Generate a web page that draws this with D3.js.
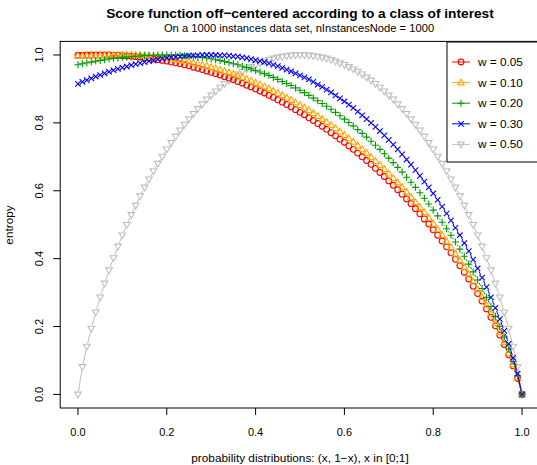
<!DOCTYPE html>
<html>
<head>
<meta charset="utf-8">
<script src="https://cdn.jsdelivr.net/npm/d3@7"></script>
<style>
  body { margin: 0; background: #fff; }
  svg { display: block; font-family: "Liberation Sans", Arial, sans-serif; }
</style>
</head>
<body>
<svg id="chart" width="537" height="465"></svg>
<script>
// x grid: probability of the first class
var xValues = [0,0.01,0.02,0.03,0.04,0.05,0.06,0.07,0.08,0.09,0.1,0.11,0.12,0.13,0.14,0.15,0.16,0.17,0.18,0.19,
  0.2,0.21,0.22,0.23,0.24,0.25,0.26,0.27,0.28,0.29,0.3,0.31,0.32,0.33,0.34,0.35,0.36,0.37,0.38,0.39,
  0.4,0.41,0.42,0.43,0.44,0.45,0.46,0.47,0.48,0.49,0.5,0.51,0.52,0.53,0.54,0.55,0.56,0.57,0.58,0.59,
  0.6,0.61,0.62,0.63,0.64,0.65,0.66,0.67,0.68,0.69,0.7,0.71,0.72,0.73,0.74,0.75,0.76,0.77,0.78,0.79,
  0.8,0.81,0.82,0.83,0.84,0.85,0.86,0.87,0.88,0.89,0.9,0.91,0.92,0.93,0.94,0.95,0.96,0.97,0.98,0.99,1];

var entropyW005 = [0.999,0.999,1,1,1,
  1,1,1,0.999,0.999,0.998,0.997,0.996,0.995,0.994,
  0.992,0.99,0.988,0.986,0.984,0.982,0.979,0.977,0.974,0.971,
  0.968,0.964,0.961,0.957,0.953,0.949,0.945,0.941,0.936,0.932,
  0.927,0.922,0.917,0.911,0.906,0.9,0.894,0.888,0.881,0.875,
  0.868,0.861,0.854,0.847,0.839,0.831,0.824,0.815,0.807,0.798,
  0.79,0.781,0.771,0.762,0.752,0.743,0.732,0.722,0.711,0.7,
  0.689,0.678,0.666,0.654,0.642,0.629,0.616,0.603,0.59,0.576,
  0.562,0.547,0.532,0.517,0.502,0.485,0.469,0.452,0.435,0.417,
  0.398,0.379,0.36,0.34,0.319,0.297,0.275,0.252,0.227,0.202,
  0.175,0.147,0.117,0.084,0.047,0];

var entropyW010 = [0.997,0.997,0.998,0.998,0.999,0.999,0.999,1,1,1,
  1,1,1,0.999,0.999,0.998,0.997,0.996,0.994,0.993,
  0.991,0.989,0.987,0.985,0.983,0.98,0.977,0.974,0.971,0.968,
  0.964,0.96,0.956,0.952,0.948,0.944,0.939,0.934,0.929,0.924,
  0.918,0.913,0.907,0.901,0.894,0.888,0.881,0.874,0.867,0.86,
  0.852,0.845,0.837,0.828,0.82,0.811,0.802,0.793,0.784,0.774,
  0.764,0.754,0.744,0.733,0.722,0.711,0.699,0.687,0.675,0.663,
  0.65,0.637,0.624,0.61,0.596,0.581,0.566,0.551,0.536,0.52,
  0.503,0.486,0.469,0.451,0.433,0.414,0.394,0.374,0.353,0.332,
  0.309,0.286,0.262,0.237,0.21,0.183,0.154,0.122,0.088,0.05,
  0];

var entropyW020 = [0.971,0.974,0.977,0.979,0.982,0.984,0.986,0.988,0.99,0.991,
  0.993,0.994,0.995,0.996,0.997,0.998,0.999,0.999,1,1,
  1,1,1,0.999,0.998,0.997,0.996,0.994,0.993,0.991,
  0.989,0.986,0.984,0.981,0.978,0.974,0.971,0.967,0.963,0.959,
  0.954,0.95,0.945,0.94,0.934,0.928,0.922,0.916,0.91,0.903,
  0.896,0.889,0.881,0.873,0.865,0.857,0.849,0.84,0.831,0.821,
  0.811,0.801,0.791,0.78,0.769,0.758,0.746,0.734,0.722,0.709,
  0.696,0.683,0.669,0.655,0.64,0.625,0.61,0.594,0.578,0.561,
  0.543,0.526,0.507,0.488,0.469,0.449,0.428,0.407,0.384,0.361,
  0.337,0.312,0.286,0.259,0.23,0.201,0.169,0.134,0.097,0.055,
  0];

var entropyW030 = [0.915,0.921,0.926,0.931,0.936,0.941,0.946,0.95,0.955,0.959,
  0.963,0.966,0.97,0.973,0.976,0.979,0.982,0.984,0.987,0.989,
  0.991,0.993,0.994,0.996,0.997,0.998,0.998,0.999,1,1,
  1,1,0.999,0.999,0.998,0.996,0.995,0.993,0.991,0.988,
  0.985,0.982,0.979,0.975,0.971,0.967,0.962,0.957,0.952,0.946,
  0.94,0.934,0.928,0.921,0.913,0.906,0.898,0.89,0.881,0.872,
  0.863,0.854,0.844,0.833,0.822,0.811,0.8,0.788,0.776,0.763,
  0.75,0.736,0.722,0.707,0.692,0.677,0.661,0.644,0.627,0.61,
  0.592,0.573,0.553,0.533,0.513,0.491,0.469,0.446,0.422,0.397,
  0.371,0.344,0.316,0.286,0.255,0.222,0.187,0.149,0.108,0.061,
  0];

var entropyW050 = [0,0.081,0.141,0.194,0.242,0.286,0.327,0.366,0.402,0.436,
  0.469,0.5,0.529,0.557,0.584,0.61,0.634,0.658,0.68,0.701,
  0.722,0.741,0.76,0.778,0.795,0.811,0.827,0.841,0.855,0.869,
  0.881,0.893,0.904,0.915,0.925,0.934,0.943,0.951,0.958,0.965,
  0.971,0.976,0.981,0.986,0.99,0.993,0.995,0.997,0.999,1,
  1,1,0.999,0.997,0.995,0.993,0.99,0.986,0.981,0.976,
  0.971,0.965,0.958,0.951,0.943,0.934,0.925,0.915,0.904,0.893,
  0.881,0.869,0.855,0.841,0.827,0.811,0.795,0.778,0.76,0.741,
  0.722,0.701,0.68,0.658,0.634,0.61,0.584,0.557,0.529,0.5,
  0.469,0.436,0.402,0.366,0.327,0.286,0.242,0.194,0.141,0.081,
  0];

var legendLabels = ["w = 0.05", "w = 0.10", "w = 0.20", "w = 0.30", "w = 0.50"];
var xTicks = [0, 0.2, 0.4, 0.6, 0.8, 1];
var yTicks = [0, 0.2, 0.4, 0.6, 0.8, 1];

var series = [
  { label: legendLabels[0], values: entropyW005, color: "#ff0000", pch: "circle" },
  { label: legendLabels[1], values: entropyW010, color: "#ffa500", pch: "triangle" },
  { label: legendLabels[2], values: entropyW020, color: "#009a00", pch: "plus" },
  { label: legendLabels[3], values: entropyW030, color: "#0000ff", pch: "cross" },
  { label: legendLabels[4], values: entropyW050, color: "#bebebe", pch: "triangleDown" }
];
// drawing order: grey first, blue last
var drawOrder = [4, 0, 1, 2, 3];

var svg = d3.select("#chart");
var width = 537, height = 465;

// R-style 4% padding around the data range
var x = d3.scaleLinear().domain([-0.04, 1.04]).range([60.2, 539.8]);
var y = d3.scaleLinear().domain([-0.04, 1.04]).range([408, 41.4]);

svg.append("rect").attr("width", width).attr("height", height).attr("fill", "#fff");

// point symbols (R pch 1, 2, 3, 4, 6)
function symbolPath(type, cx, cy) {
  var s = 3.5;
  switch (type) {
    case "triangle":
      return "M" + cx + "," + (cy - s) + "L" + (cx + s * 0.95) + "," + (cy + s * 0.65) +
        "L" + (cx - s * 0.95) + "," + (cy + s * 0.65) + "Z";
    case "triangleDown":
      return "M" + cx + "," + (cy + s) + "L" + (cx + s * 0.95) + "," + (cy - s * 0.65) +
        "L" + (cx - s * 0.95) + "," + (cy - s * 0.65) + "Z";
    case "plus":
      return "M" + (cx - s) + "," + cy + "H" + (cx + s) + "M" + cx + "," + (cy - s) + "V" + (cy + s);
    case "cross":
      var c = s * 0.78;
      return "M" + (cx - c) + "," + (cy - c) + "L" + (cx + c) + "," + (cy + c) +
        "M" + (cx - c) + "," + (cy + c) + "L" + (cx + c) + "," + (cy - c);
  }
  return null;
}

function drawPoint(g, type, cx, cy, color) {
  if (type == "circle") {
    g.append("circle").attr("cx", cx).attr("cy", cy).attr("r", 2.9)
      .attr("fill", "none").attr("stroke", color).attr("stroke-width", 1.1);
  } else {
    g.append("path").attr("d", symbolPath(type, cx, cy))
      .attr("fill", "none").attr("stroke", color).attr("stroke-width", 1.1);
  }
}

// ================ series (type = "b": points joined by gapped segments) ================
var gap = 3.2;
var plotArea = svg.append("g");
drawOrder.forEach(function (si) {
  var s = series[si];
  var g = plotArea.append("g");
  var pts = xValues.map(function (d, i) { return [x(d), y(s.values[i])]; });
  for (var i = 0; i < pts.length - 1; i++) {
    var dx = pts[i + 1][0] - pts[i][0], dy = pts[i + 1][1] - pts[i][1];
    var len = Math.sqrt(dx * dx + dy * dy);
    if (len <= 2 * gap) continue;
    var ux = dx / len, uy = dy / len;
    g.append("line")
      .attr("x1", pts[i][0] + ux * gap).attr("y1", pts[i][1] + uy * gap)
      .attr("x2", pts[i + 1][0] - ux * gap).attr("y2", pts[i + 1][1] - uy * gap)
      .attr("stroke", s.color).attr("stroke-width", 1);
  }
  pts.forEach(function (p) { drawPoint(g, s.pch, p[0], p[1], s.color); });
});

// ================ box and axes ================
svg.append("rect")
  .attr("x", 60.2).attr("y", 41.4)
  .attr("width", 539.8 - 60.2).attr("height", 408 - 41.4)
  .attr("fill", "none").attr("stroke", "#000").attr("stroke-width", 1);

var xAxis = svg.append("g").attr("transform", "translate(0,408)");
xAxis.selectAll("line").data(xTicks).enter().append("line")
  .attr("x1", function (d) { return x(d); }).attr("x2", function (d) { return x(d); })
  .attr("y1", 0).attr("y2", 7).attr("stroke", "#000");
xAxis.selectAll("text").data(xTicks).enter().append("text")
  .attr("x", function (d) { return x(d); }).attr("y", 27.5)
  .attr("text-anchor", "middle").style("font-size", "11px")
  .text(function (d) { return d.toFixed(1); });

var yAxis = svg.append("g").attr("transform", "translate(60.2,0)");
yAxis.selectAll("line").data(yTicks).enter().append("line")
  .attr("y1", function (d) { return y(d); }).attr("y2", function (d) { return y(d); })
  .attr("x1", 0).attr("x2", -7).attr("stroke", "#000");
yAxis.selectAll("text").data(yTicks).enter().append("text")
  .attr("transform", function (d) { return "translate(-17," + y(d) + ") rotate(-90)"; })
  .attr("text-anchor", "middle").style("font-size", "11px")
  .text(function (d) { return d.toFixed(1); });

// ================ titles ================
svg.append("text").text("Score function off\u2212centered according to a class of interest")
  .attr("x", 300).attr("y", 18).attr("text-anchor", "middle")
  .style("font-size", "13.7px").style("font-weight", "bold");
svg.append("text").text("On a 1000 instances data set, nInstancesNode = 1000")
  .attr("x", 299).attr("y", 31.5).attr("text-anchor", "middle")
  .style("font-size", "11.2px");
svg.append("text").text("probability distributions: (x, 1\u2212x), x in [0;1]")
  .attr("x", 300).attr("y", 462).attr("text-anchor", "middle")
  .style("font-size", "11.8px");
svg.append("text").text("entropy")
  .attr("transform", "translate(13,225) rotate(-90)")
  .attr("text-anchor", "middle").style("font-size", "11.8px");

// ================ legend ================
var legend = svg.append("g");
legend.append("rect").attr("x", 447).attr("y", 42).attr("width", 100).attr("height", 120)
  .attr("fill", "#fff").attr("stroke", "#000");
series.forEach(function (s, i) {
  var ly = 62 + i * 20.6;
  legend.append("line").attr("x1", 452).attr("x2", 470).attr("y1", ly).attr("y2", ly)
    .attr("stroke", s.color);
  drawPoint(legend, s.pch, 461, ly, s.color);
  legend.append("text").text(s.label).attr("x", 478).attr("y", ly + 4)
    .style("font-size", "11.8px");
});
</script>
</body>
</html>
